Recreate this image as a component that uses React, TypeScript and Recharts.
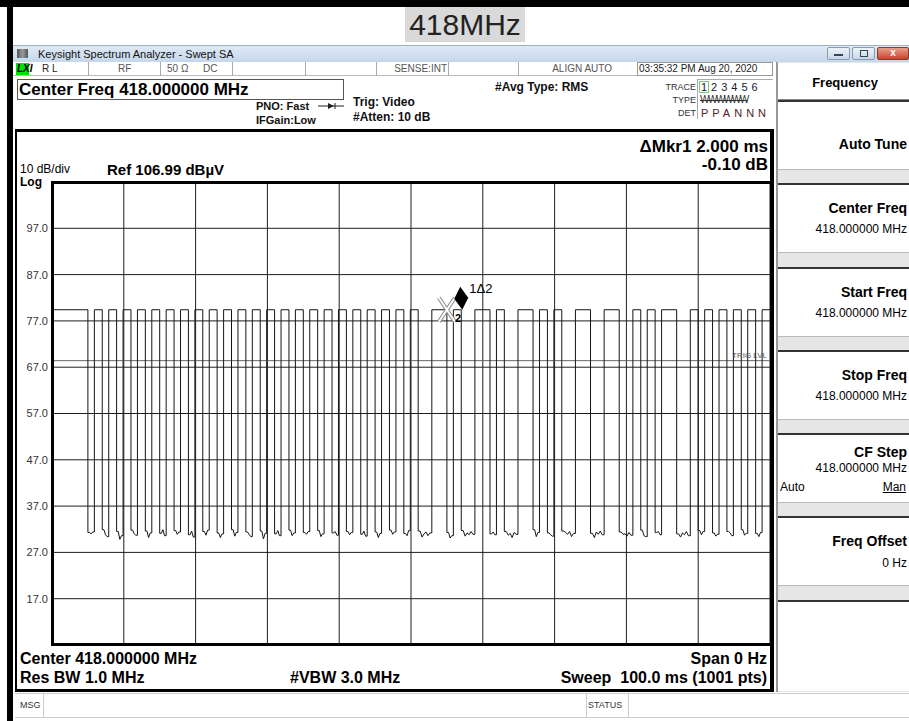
import React from 'react';
import {
  LineChart,
  Line,
  XAxis,
  YAxis,
  CartesianGrid,
  ReferenceLine,
  ReferenceDot,
} from 'recharts';

const FONT = '"Liberation Sans", Arial, sans-serif';

// axis setup
const refLevelDb = 106.99;
const yTicks = [16.99, 26.99, 36.99, 46.99, 56.99, 66.99, 76.99, 86.99, 96.99];
const xTicks = [0, 10, 20, 30, 40, 50, 60, 70, 80, 90, 100];

// trace levels (dBuV)
const highLevelDb = 79.4;
const trigLevelDb = 68.4;

// burst gaps: where the trace falls to the floor and comes back (ms)
const lowStartMs = [
  5, 7, 9, 11, 13, 15, 17, 19, 21, 23, 25, 27, 29, 31, 33, 35, 37, 39, 41, 43, 45, 47, 49,
  51, 55, 57, 61, 63, 67, 69, 71, 75, 79, 82, 84, 87, 90, 92, 94, 96, 98,
];
const lowEndMs = [
  5.9, 7.9, 9.9, 11.9, 13.9, 15.9, 17.9, 19.9, 21.9, 23.9, 25.9, 27.9, 29.9, 31.9, 33.9, 35.9,
  37.9, 39.9, 41.9, 43.9, 45.9, 47.9, 49.9,
  52.9, 55.9, 58.9, 61.9, 64.9, 67.9, 69.9, 72.9, 76.9, 80.9, 82.9, 84.9, 88.9, 90.9, 92.9,
  94.9, 96.9, 98.9,
];
// noise floor samples inside each gap
const lowFloorDb = [
  [31.3, 31.0, 31.4], [31.9, 30.8, 30.4], [31.5, 29.8, 30.6], [31.8, 31.0, 30.7],
  [31.6, 30.2, 31.2], [31.1, 31.9, 30.6], [31.7, 30.9, 31.4], [30.8, 31.6, 30.3],
  [31.5, 30.7, 31.8], [31.2, 30.2, 31.0], [31.9, 30.5, 31.3], [31.4, 30.9, 30.4],
  [31.6, 29.9, 31.1], [31.0, 31.7, 30.6], [31.8, 30.6, 31.2], [31.3, 30.9, 31.5],
  [31.7, 30.4, 31.0], [31.2, 31.5, 30.7], [31.5, 30.8, 31.3], [30.9, 31.6, 30.5],
  [31.4, 30.2, 31.1], [31.8, 30.9, 31.4], [31.1, 30.6, 31.7],
  [31.6, 30.3, 31.0, 31.4, 30.6, 31.2], [31.3, 30.1, 30.6],
  [31.7, 30.5, 31.2, 30.8, 31.5, 30.9], [31.0, 31.4, 30.8],
  [31.5, 30.7, 31.1, 30.2, 31.3, 30.9], [31.9, 30.4, 31.3], [31.2, 30.8, 30.5],
  [31.6, 31.3, 30.9, 31.5, 30.4, 31.1], [31.1, 30.2, 31.4, 30.9, 31.6, 30.8],
  [31.4, 30.9, 31.0, 30.5, 31.3, 30.7], [31.8, 30.6, 30.4], [31.3, 31.5, 30.8],
  [31.0, 30.3, 31.2, 30.8, 31.5, 30.6], [31.7, 30.8, 31.5], [31.2, 30.5, 30.9],
  [31.5, 31.2, 30.6], [31.9, 30.7, 31.1], [31.1, 30.4, 31.3],
];

// markers
const mkr2Ms = 55.0;
const mkr1Ms = 57.0;

const trace: { t: number; v: number }[] = [{ t: 0, v: highLevelDb }];
lowStartMs.forEach((s, i) => {
  const e = lowEndMs[i];
  const f = lowFloorDb[i];
  const step = (e - s) / (f.length + 1);
  trace.push({ t: s, v: highLevelDb });
  trace.push({ t: s, v: f[0] });
  f.forEach((v, j) => trace.push({ t: s + step * (j + 1), v }));
  trace.push({ t: e, v: f[f.length - 1] });
  trace.push({ t: e, v: highLevelDb });
});
trace.push({ t: 100, v: highLevelDb });

type TxtProps = {
  x: number;
  y: number;
  s?: number;
  b?: boolean;
  a?: 'start' | 'middle' | 'end';
  c?: string;
  f?: string;
  extra?: React.CSSProperties;
  children: React.ReactNode;
};

function Txt({ x, y, s = 12, b = false, a = 'start', c = '#000', f = FONT, extra, children }: TxtProps) {
  const style: React.CSSProperties = {
    position: 'absolute',
    top: y - s * 0.5,
    fontSize: s,
    lineHeight: `${s}px`,
    fontWeight: b ? 'bold' : 'normal',
    color: c,
    fontFamily: f,
    whiteSpace: 'nowrap',
    ...extra,
  };
  if (a === 'end') style.right = 909 - x;
  else if (a === 'middle') {
    style.left = x;
    style.transform = 'translateX(-50%)';
  } else style.left = x;
  return <div style={style}>{children}</div>;
}

function Box({ x, y, w, h, style }: { x: number; y: number; w: number; h: number; style?: React.CSSProperties }) {
  return <div style={{ position: 'absolute', left: x, top: y, width: w, height: h, boxSizing: 'border-box', ...style }} />;
}

const DeltaMarker = (props: any) => {
  const { cx, cy } = props;
  return (
    <g>
      <polygon points={`${cx - 1},${cy - 23} ${cx + 7},${cy - 12} ${cx + 1},${cy} ${cx - 7},${cy - 11}`} fill="#000" />
      <text x={cx + 8} y={cy - 17} fontSize={13} fontFamily={FONT} fill="#000">1Δ2</text>
    </g>
  );
};

const RefMarker = (props: any) => {
  const { cx, cy } = props;
  return (
    <g>
      <line x1={cx - 8} y1={cy - 12} x2={cx + 8} y2={cy + 12} stroke="#888" strokeWidth={4} />
      <line x1={cx + 8} y1={cy - 12} x2={cx - 8} y2={cy + 12} stroke="#888" strokeWidth={4} />
      <line x1={cx - 8} y1={cy - 12} x2={cx + 8} y2={cy + 12} stroke="#fff" strokeWidth={2} />
      <line x1={cx + 8} y1={cy - 12} x2={cx - 8} y2={cy + 12} stroke="#fff" strokeWidth={2} />
      <text x={cx + 8} y={cy + 12} fontSize={11} fontWeight="bold" fontFamily={FONT} fill="#000">2</text>
    </g>
  );
};

const softkeys = [
  { top: 100, title: 'Auto Tune', ty: 44, value: '', vy: 0 },
  { top: 183, title: 'Center Freq', ty: 25, value: '418.000000 MHz', vy: 46 },
  { top: 267, title: 'Start Freq', ty: 25, value: '418.000000 MHz', vy: 46 },
  { top: 350, title: 'Stop Freq', ty: 25, value: '418.000000 MHz', vy: 46 },
  { top: 433, title: 'CF Step', ty: 19, value: '418.000000 MHz', vy: 35 },
  { top: 516, title: 'Freq Offset', ty: 25, value: '0 Hz', vy: 47 },
];

const statusSeps = [88, 160, 232, 305, 376, 448, 518];

export default function App() {
  return (
    <div style={{ position: 'absolute', left: 0, top: 0, width: 909, height: 721, background: '#fff', overflow: 'hidden', fontFamily: FONT }}>
      {/* outer screenshot frame */}
      <Box x={0} y={0} w={909} h={7} style={{ background: '#000' }} />
      <Box x={7} y={0} w={6} h={721} style={{ background: '#000' }} />
      <Box x={405} y={7} w={120} h={35} style={{ background: '#d9d9d9' }} />
      <Txt x={465} y={25} s={30} a="middle" c="#222">418MHz</Txt>

      {/* window title bar */}
      <Box x={13} y={45} w={896} h={17} style={{ background: 'linear-gradient(#dfe9f5, #c6d7eb)', borderTop: '1px solid #9db3cc' }} />
      <Box x={17} y={49} w={11} h={9} style={{ background: 'linear-gradient(90deg,#555,#999,#555)' }} />
      <Txt x={38} y={54} s={11} c="#111">Keysight Spectrum Analyzer - Swept SA</Txt>
      <Box x={827} y={47} w={23} h={13} style={{ background: 'linear-gradient(#eef3f9,#c9d6e6)', border: '1px solid #8a9bb0', borderRadius: 2 }} />
      <Box x={834} y={54} w={9} h={2} style={{ background: '#345' }} />
      <Box x={852} y={47} w={23} h={13} style={{ background: 'linear-gradient(#eef3f9,#c9d6e6)', border: '1px solid #8a9bb0', borderRadius: 2 }} />
      <Box x={860} y={50} w={8} h={7} style={{ border: '1px solid #345' }} />
      <Box x={877} y={47} w={32} h={13} style={{ background: 'linear-gradient(#e8a08c,#c8452c)', border: '1px solid #8a3a2a', borderRadius: 2 }} />
      <Txt x={893} y={53} s={10} b a="middle" c="#fff">x</Txt>

      {/* status row */}
      <Box x={13} y={62} w={760} h={14} style={{ background: '#fff', borderBottom: '1px solid #bbb' }} />
      <Box x={16} y={63} w={13} h={12} style={{ background: '#00e000' }} />
      <Txt x={17} y={69} s={10} b c="#000" extra={{ fontStyle: 'italic' }}>LXI</Txt>
      {statusSeps.map((x) => (
        <Box key={x} x={x} y={62} w={1} h={14} style={{ background: '#aaa' }} />
      ))}
      <Txt x={42} y={69} s={10} c="#222">R L</Txt>
      <Txt x={118} y={69} s={10} c="#555">RF</Txt>
      <Txt x={167} y={69} s={10} c="#555">50 Ω</Txt>
      <Txt x={203} y={69} s={10} c="#555">DC</Txt>
      <Txt x={447} y={69} s={10} a="end" c="#555">SENSE:INT</Txt>
      <Txt x={612} y={69} s={10} a="end" c="#555">ALIGN AUTO</Txt>
      <Box x={637} y={62} w={136} h={14} style={{ border: '1px solid #999' }} />
      <Txt x={639} y={69} s={10} c="#222">03:35:32 PM Aug 20, 2020</Txt>

      {/* settings panel */}
      <Box x={17} y={79} w={327} h={21} style={{ border: '1px solid #555' }} />
      <Txt x={19} y={89} s={17} b>Center Freq 418.000000 MHz</Txt>
      <Txt x={256} y={106} s={11} b c="#111">PNO: Fast</Txt>
      <svg style={{ position: 'absolute', left: 318, top: 102 }} width={26} height={8}>
        <line x1={0} y1={4} x2={26} y2={4} stroke="#222" strokeWidth={1} />
        <polygon points="10,1 16,4 10,7" fill="#222" />
        <line x1={17} y1={1} x2={17} y2={7} stroke="#222" strokeWidth={1} />
      </svg>
      <Txt x={256} y={120} s={11} b c="#111">IFGain:Low</Txt>
      <Txt x={353} y={102} s={12} b c="#111">Trig: Video</Txt>
      <Txt x={353} y={117} s={12} b c="#111">#Atten: 10 dB</Txt>
      <Txt x={495} y={87} s={12} b c="#111">#Avg Type: RMS</Txt>
      <Txt x={696} y={87} s={9} a="end" c="#333">TRACE</Txt>
      <Txt x={696} y={100} s={9} a="end" c="#333">TYPE</Txt>
      <Txt x={696} y={113} s={9} a="end" c="#333">DET</Txt>
      <Box x={697} y={79} w={76} h={40} style={{ borderLeft: '1px solid #aaa', borderTop: '1px solid #aaa' }} />
      <Box x={699} y={81} w={10} h={12} style={{ border: '1px solid #7c7' }} />
      <Txt x={701} y={87} s={11} c="#123" extra={{ letterSpacing: 4 }}>123456</Txt>
      <Txt x={700} y={100} s={10} c="#333" extra={{ textDecoration: 'line-through', letterSpacing: -1.5 }}>WWWWWW</Txt>
      <Txt x={701} y={113} s={11} c="#522" extra={{ letterSpacing: 4 }}>PPANNN</Txt>

      {/* display frame */}
      <Box x={15} y={129} w={759} h={563} style={{ borderTop: '3px solid #000', borderLeft: '2px solid #000', borderRight: '4px solid #000', borderBottom: '3px solid #000' }} />
      <Txt x={768} y={146} s={17} b a="end">ΔMkr1 2.000 ms</Txt>
      <Txt x={768} y={164} s={17} b a="end">-0.10 dB</Txt>
      <Txt x={20} y={169} s={12}>10 dB/div</Txt>
      <Txt x={20} y={182} s={12} b>Log</Txt>
      <Txt x={107} y={169} s={15} b>Ref {refLevelDb.toFixed(2)} dBµV</Txt>

      <div style={{ position: 'absolute', left: 12, top: 182 }}>
        <LineChart width={758} height={463} data={trace} margin={{ top: 0, right: 0, bottom: 0, left: 0 }}>
          <CartesianGrid stroke="#1e1e1e" strokeWidth={1} />
          <XAxis type="number" dataKey="t" domain={[0, 100]} ticks={xTicks} hide />
          <YAxis
            type="number"
            domain={[refLevelDb - 100, refLevelDb]}
            ticks={yTicks}
            interval={0}
            width={40}
            tickFormatter={(v: number) => v.toFixed(1)}
            axisLine={false}
            tickLine={false}
            tickSize={0}
            tickMargin={4}
            tick={{ fontSize: 11, fill: '#333', fontFamily: FONT }}
          />
          <ReferenceLine
            y={trigLevelDb}
            stroke="#666"
            strokeWidth={1}
            label={{ value: 'TRIG LVL', position: 'insideBottomRight', offset: 3, fontSize: 8, fill: '#555', fontFamily: FONT }}
          />
          <Line
            type="linear"
            dataKey="v"
            stroke="#151515"
            strokeWidth={1}
            dot={false}
            isAnimationActive={false}
          />
          <ReferenceDot x={mkr2Ms} y={highLevelDb} r={0} shape={RefMarker} />
          <ReferenceDot x={mkr1Ms} y={highLevelDb} r={0} shape={DeltaMarker} />
        </LineChart>
      </div>
      <Box x={51} y={181} w={721} h={465} style={{ border: '3px solid #000', borderRight: 'none' }} />

      <Txt x={20} y={659} s={16} b>Center 418.000000 MHz</Txt>
      <Txt x={20} y={678} s={16} b>Res BW 1.0 MHz</Txt>
      <Txt x={290} y={678} s={16} b>#VBW 3.0 MHz</Txt>
      <Txt x={767} y={659} s={16} b a="end">Span 0 Hz</Txt>
      <Txt x={767} y={678} s={16} b a="end" extra={{ whiteSpace: 'pre' }}>Sweep  100.0 ms (1001 pts)</Txt>

      {/* message bar */}
      <Box x={15} y={693} w={894} h={25} style={{ borderTop: '1px solid #ccc', borderBottom: '1px solid #ccc' }} />
      <Box x={43} y={693} w={1} h={25} style={{ background: '#ccc' }} />
      <Box x={586} y={693} w={1} h={25} style={{ background: '#ccc' }} />
      <Box x={628} y={693} w={1} h={25} style={{ background: '#ccc' }} />
      <Txt x={20} y={705} s={9} c="#333">MSG</Txt>
      <Txt x={588} y={705} s={9} c="#333">STATUS</Txt>

      {/* softkey panel */}
      <Box x={776} y={62} w={133} h={630} style={{ background: '#e6e6e6', borderLeft: '2px solid #999' }} />
      <Box x={778} y={63} w={131} h={37} style={{ background: '#fff', borderBottom: '1px solid #888' }} />
      <Txt x={845} y={82} s={13} b a="middle">Frequency</Txt>
      {softkeys.map((k) => (
        <React.Fragment key={k.title}>
          <Box x={778} y={k.top} w={131} h={70} style={{ background: '#fff', borderTop: '2px solid #333', borderBottom: '1px solid #bbb' }} />
          <Txt x={907} y={k.top + k.ty} s={14} b a="end">{k.title}</Txt>
          {k.value && (
            <Txt x={907} y={k.top + k.vy} s={12} a="end">{k.value}</Txt>
          )}
        </React.Fragment>
      ))}
      <Txt x={780} y={487} s={12}>Auto</Txt>
      <Txt x={906} y={487} s={12} a="end" extra={{ textDecoration: 'underline' }}>Man</Txt>
      <Box x={778} y={600} w={131} h={91} style={{ background: '#fff', borderTop: '2px solid #333' }} />
    </div>
  );
}
